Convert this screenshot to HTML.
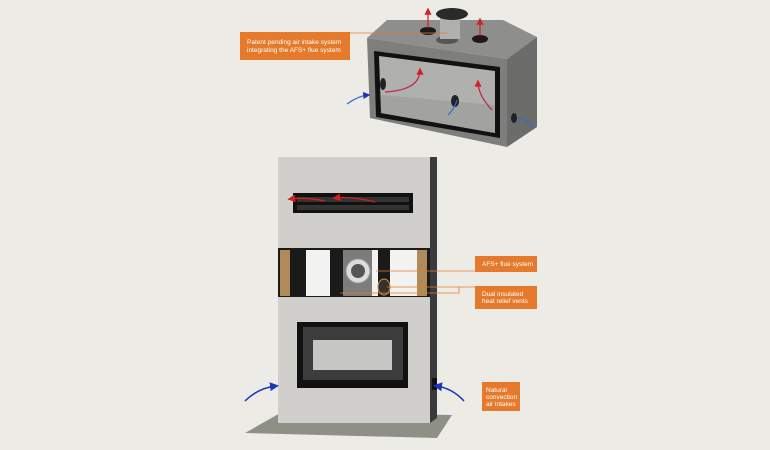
<!DOCTYPE html>
<html><head><meta charset="utf-8"><style>
html,body{margin:0;padding:0;background:#ecebe5;}
svg{display:block}
text{font-family:"Liberation Sans",sans-serif;fill:#fff;font-size:6.5px}
</style></head><body>
<svg width="770" height="450" viewBox="0 0 770 450" xmlns="http://www.w3.org/2000/svg">
<defs>
<marker id="ar" markerWidth="6" markerHeight="6" refX="4" refY="3" orient="auto"><path d="M0,0 L6,3 L0,6z" fill="#d42020"/></marker>
<marker id="ab" markerWidth="6" markerHeight="6" refX="4" refY="3" orient="auto"><path d="M0,0 L6,3 L0,6z" fill="#1838b8"/></marker>
</defs>
<rect width="770" height="450" fill="#ecebe5"/>
<!-- top box -->
<polygon points="367,38 387,20 503,20 537,37 507,59" fill="#8e8e8c"/>
<polygon points="367,38 507,59 507,147 370,118" fill="#7e7e7c"/>
<polygon points="507,59 537,37 537,127 507,147" fill="#6c6c6a"/>
<polygon points="374,51 500,67 500,138 376,117" fill="#111"/>
<polygon points="379,56 495,71 495,133 381,113" fill="#b0b0ac"/>
<polygon points="381,95 495,105 495,133 381,113" fill="#a2a29e"/>
<ellipse cx="383" cy="84" rx="3" ry="6" fill="#222"/>
<ellipse cx="455" cy="101" rx="4" ry="6" fill="#222"/>
<ellipse cx="514" cy="118" rx="3" ry="5" fill="#222"/>
<ellipse cx="447" cy="40" rx="11" ry="4" fill="#555"/>
<rect x="440" y="17" width="20" height="22" fill="#b0b0ae"/>
<ellipse cx="452" cy="14" rx="16" ry="6" fill="#2a2a2a"/>
<ellipse cx="428" cy="31" rx="8" ry="4" fill="#1a1a1a"/>
<ellipse cx="480" cy="39" rx="8" ry="4" fill="#1a1a1a"/>
<path d="M428,28 L428,10" stroke="#d42020" stroke-width="1.2" marker-end="url(#ar)"/>
<path d="M480,36 L480,20" stroke="#d42020" stroke-width="1.2" marker-end="url(#ar)"/>
<path d="M385,92 Q420,90 420,70" stroke="#c02050" stroke-width="1.2" fill="none" marker-end="url(#ar)"/>
<path d="M492,110 Q478,95 478,82" stroke="#c02050" stroke-width="1.2" fill="none" marker-end="url(#ar)"/>
<path d="M448,115 Q455,108 457,100" stroke="#2a70d0" stroke-width="1.2" fill="none"/>
<path d="M347,104 Q358,96 368,95" stroke="#2a70d0" stroke-width="1.2" fill="none" marker-end="url(#ab)"/>
<path d="M534,128 Q528,120 518,118" stroke="#2a70d0" stroke-width="1.2" fill="none"/>
<rect x="240" y="32" width="110" height="28" fill="#e57a2c"/>
<text x="247" y="44">Patent pending air intake system</text>
<text x="247" y="52">integrating the AFS+ flue system</text>
<line x1="350" y1="33" x2="447" y2="33" stroke="#e57a2c" stroke-width="0.8"/>
<!-- floor -->
<polygon points="245,433 282,412 452,415 437,438" fill="#8f9085"/>
<!-- main -->
<rect x="278" y="157" width="152" height="266" fill="#d0cfcc"/>
<polygon points="430,157 437,157 437,418 430,423" fill="#3a3a3a"/>
<rect x="293" y="193" width="120" height="20" fill="#111"/>
<rect x="297" y="197" width="112" height="5" fill="#333"/>
<rect x="297" y="205" width="112" height="5" fill="#333"/>
<path d="M375,202 Q350,196 335,198" stroke="#d42020" stroke-width="1.3" fill="none" marker-end="url(#ar)"/>
<path d="M325,201 Q305,197 290,199" stroke="#d42020" stroke-width="1.3" fill="none" marker-end="url(#ar)"/>
<rect x="278" y="248" width="152" height="49" fill="#1a1a1a"/>
<rect x="280" y="250" width="10" height="46" fill="#b08a5a"/>
<rect x="417" y="250" width="10" height="46" fill="#b08a5a"/>
<rect x="306" y="250" width="24" height="46" fill="#f2f2f0"/>
<rect x="343" y="250" width="29" height="46" fill="#7c7c7a"/>
<rect x="372" y="250" width="6" height="46" fill="#f2f2f0"/>
<rect x="390" y="250" width="27" height="46" fill="#f2f2f0"/>
<ellipse cx="358" cy="271" rx="12" ry="12" fill="#ddd" stroke="#999"/>
<ellipse cx="358" cy="271" rx="7" ry="7" fill="#555"/>
<ellipse cx="384" cy="287" rx="6" ry="8" fill="#333" stroke="#d09030"/>
<rect x="297" y="322" width="111" height="66" fill="#111"/>
<rect x="303" y="327" width="100" height="53" fill="#3c3c3c"/>
<rect x="313" y="340" width="79" height="30" fill="#c6c6c4"/>
<rect x="432" y="378" width="5" height="12" fill="#111"/>
<line x1="376" y1="271" x2="475" y2="271" stroke="#e57a2c" stroke-width="0.8"/>
<polyline points="340,293 459,293 459,287 475,287" stroke="#e57a2c" stroke-width="0.8" fill="none"/>
<line x1="387" y1="287" x2="459" y2="287" stroke="#e57a2c" stroke-width="0.8"/>
<rect x="475" y="256" width="62" height="16" fill="#e57a2c"/>
<text x="482" y="266">AFS+ flue system</text>
<rect x="475" y="286" width="62" height="23" fill="#e57a2c"/>
<text x="482" y="296">Dual insulated</text>
<text x="482" y="303">heat relief vents</text>
<rect x="482" y="382" width="38" height="29" fill="#e57a2c"/>
<text x="486" y="392">Natural</text>
<text x="486" y="399">convection</text>
<text x="486" y="406">air intakes</text>
<path d="M245,401 Q258,388 276,386" stroke="#1838b8" stroke-width="1.5" fill="none" marker-end="url(#ab)"/>
<path d="M464,401 Q452,388 436,386" stroke="#1838b8" stroke-width="1.5" fill="none" marker-end="url(#ab)"/>
</svg>
</body></html>
